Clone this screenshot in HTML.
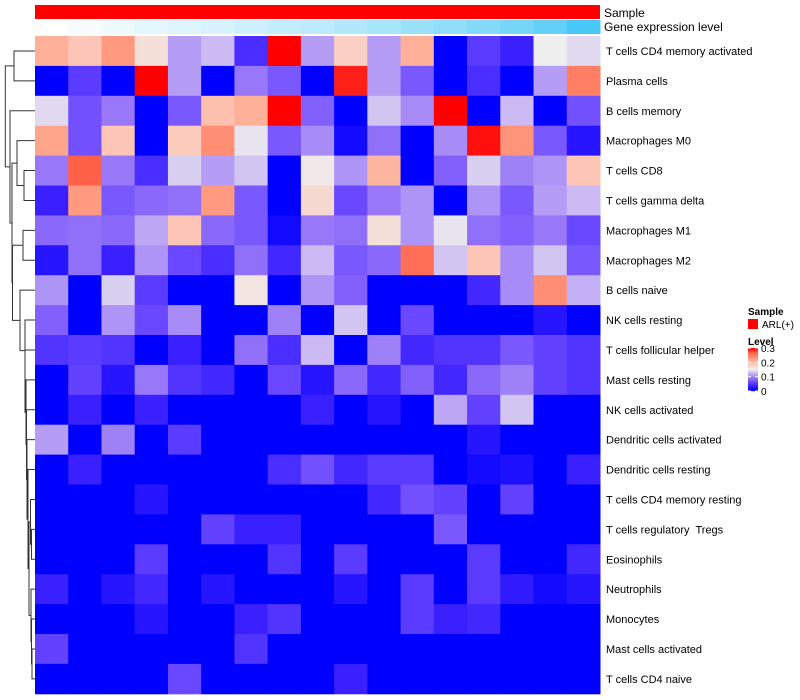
<!DOCTYPE html>
<html><head><meta charset="utf-8"><style>
html,body{margin:0;padding:0;background:#fff;}
svg{display:block;font-family:"Liberation Sans",sans-serif;}
svg text{white-space:pre;}
</style></head><body>
<svg id="chart" width="800" height="700" viewBox="0 0 800 700"></svg>
<script>
const rowNames=["T cells CD4 memory activated","Plasma cells","B cells memory","Macrophages M0","T cells CD8","T cells gamma delta","Macrophages M1","Macrophages M2","B cells naive","NK cells resting","T cells follicular helper","Mast cells resting","NK cells activated","Dendritic cells activated","Dendritic cells resting","T cells CD4 memory resting","T cells regulatory  Tregs","Eosinophils","Neutrophils","Monocytes","Mast cells activated","T cells CD4 naive"];
const geneLevel=[0,0.05,0.1,0.14,0.18,0.22,0.27,0.32,0.37,0.42,0.48,0.54,0.6,0.67,0.75,0.85,1];
const v0=[0.21,0.19,0.23,0.165,0.11,0.125,0.04,0.3,0.11,0.18,0.11,0.21,0,0.05,0.03,0.15,0.14];
const v1=[0,0.05,0,0.3,0.11,0,0.09,0.07,0,0.29,0.11,0.07,0,0.04,0,0.11,0.25];
const v2=[0.14,0.065,0.09,0,0.07,0.195,0.21,0.3,0.075,0,0.13,0.1,0.3,0,0.125,0,0.065];
const v3=[0.22,0.065,0.19,0,0.185,0.24,0.145,0.07,0.1,0.01,0.085,0,0.1,0.295,0.235,0.07,0.02];
const v4=[0.09,0.27,0.09,0.04,0.135,0.11,0.13,0,0.155,0.105,0.205,0,0.075,0.135,0.095,0.105,0.19];
const v5=[0.03,0.23,0.07,0.08,0.085,0.23,0.07,0,0.17,0.06,0.09,0.105,0,0.105,0.07,0.11,0.125];
const v6=[0.08,0.085,0.08,0.115,0.19,0.08,0.07,0.01,0.09,0.085,0.165,0.105,0.145,0.085,0.075,0.09,0.06];
const v7=[0.02,0.085,0.03,0.105,0.06,0.04,0.085,0.035,0.125,0.07,0.08,0.26,0.13,0.19,0.1,0.13,0.07];
const v8=[0.105,0,0.135,0.05,0,0,0.16,0,0.105,0.075,0,0,0,0.035,0.1,0.24,0.12];
const v9=[0.075,0,0.105,0.06,0.1,0,0,0.095,0,0.13,0,0.06,0,0,0,0.02,0];
const v10=[0.045,0.05,0.045,0,0.03,0,0.085,0.04,0.125,0,0.095,0.035,0.045,0.045,0.07,0.055,0.045];
const v11=[0,0.055,0.02,0.09,0.045,0.035,0,0.06,0.02,0.08,0.035,0.075,0.035,0.08,0.095,0.055,0.045];
const v12=[0,0.03,0,0.03,0,0,0,0,0.03,0,0.02,0,0.115,0.055,0.13,0,0];
const v13=[0.11,0,0.095,0,0.05,0,0,0,0,0,0,0,0,0.02,0,0,0];
const v14=[0,0.03,0,0,0,0,0,0.04,0.065,0.035,0.05,0.05,0,0.01,0.015,0,0.03];
const v15=[0,0,0,0.02,0,0,0,0,0,0,0.035,0.065,0.055,0,0.055,0,0];
const v16=[0,0,0,0,0,0.055,0.03,0.03,0,0,0,0,0.07,0,0,0,0];
const v17=[0,0,0,0.05,0,0,0,0.045,0,0.05,0,0,0,0.05,0,0,0.035];
const v18=[0.03,0,0.02,0.035,0,0.02,0,0,0,0.02,0,0.05,0,0.05,0.025,0.01,0.02];
const v19=[0,0,0,0.02,0,0,0.03,0.045,0,0,0,0.05,0.03,0.035,0,0,0];
const v20=[0.055,0,0,0,0,0,0.045,0,0,0,0,0,0,0,0,0,0];
const v21=[0,0,0,0,0.06,0,0,0,0,0.03,0,0,0,0,0,0,0];
const values=[v0,v1,v2,v3,v4,v5,v6,v7,v8,v9,v10,v11,v12,v13,v14,v15,v16,v17,v18,v19,v20,v21];
const levelTicks=[0,0.1,0.2,0.3];

const NS="http://www.w3.org/2000/svg";
const svg=document.getElementById('chart');
function mk(tag,attrs,parent){const e=document.createElementNS(NS,tag);for(const k in attrs)e.setAttribute(k,attrs[k]);(parent||svg).appendChild(e);return e;}
const X0=35,X1=600,Y0=36,RH=29.9,nC=17,CW=(X1-X0)/nC;
const xPos=c=>X0+c*CW, yPos=r=>Y0+r*RH;
const stops=[[0,[0,0,255]],[0.03,[58,32,255]],[0.06,[106,72,255]],[0.09,[152,120,248]],[0.12,[196,176,244]],[0.15,[238,238,238]],[0.18,[250,208,196]],[0.21,[255,176,152]],[0.24,[255,142,116]],[0.27,[255,96,72]],[0.3,[255,0,0]]];
function col(v){v=Math.max(0,Math.min(0.3,v));for(let i=1;i<stops.length;i++){if(v<=stops[i][0]){const a=stops[i-1],b=stops[i],t=(v-a[0])/(b[0]-a[0]);return 'rgb('+a[1].map((c,j)=>Math.round(c+(b[1][j]-c)*t)).join(',')+')';}}return 'rgb(255,0,0)';}
function blueCol(t){return 'rgb('+Math.round(255+(72-255)*t)+','+Math.round(255+(200-255)*t)+','+Math.round(255+(246-255)*t)+')';}

const g=mk('g',{});


values.forEach((row,r)=>row.forEach((v,c)=>{
  const e=mk('rect',{x:xPos(c),y:yPos(r),width:CW+0.5,height:RH+0.5,fill:col(v)},g);
  
  
}));
const sb=mk('rect',{x:X0,y:5,width:X1-X0,height:14,fill:'#ff0000'});


geneLevel.forEach((t,c)=>{const e=mk('rect',{x:xPos(c),y:20,width:CW+0.5,height:14,fill:blueCol(t)});
  
  });
let t=mk('text',{x:604,y:17,'font-size':12});t.textContent='Sample';

t=mk('text',{x:604,y:31,'font-size':12});t.textContent='Gene expression level';

rowNames.forEach((n,r)=>{const e=mk('text',{x:606,y:yPos(r)+RH/2+4,'font-size':11});e.textContent=n;
  
  });
const merges=[[0,1,14],[4,5,24],[3,'c1',17],[6,7,23],[20,21,32],[19,'c4',31.5],[18,'c5',31],[16,17,31.5],[15,'c7',30.5],['c6','c8',29],[14,'c9',28],[13,'c10',27],[12,'c11',26.5],[11,'c12',26],[10,'c13',25],[9,'c14',25],[8,'c15',20],['c3','c16',12.5],['c2','c17',12],[2,'c18',10],['c0','c19',5.3]];
const node={};
function pos(k){return typeof k==='number'?{x:X0,y:yPos(k)+RH/2}:node[k];}
const dg=mk('g',{stroke:'#333','stroke-width':1,fill:'none'});


merges.forEach((m,i)=>{const a=pos(m[0]),b=pos(m[1]),h=m[2];
  mk('path',{d:`M${a.x} ${a.y}H${h}V${b.y}H${b.x}`},dg);
  node['c'+i]={x:h,y:(a.y+b.y)/2};});
t=mk('text',{x:748,y:315,'font-size':10,'font-weight':'bold'});t.textContent='Sample';

const lr=mk('rect',{x:748,y:319,width:10,height:10,fill:'#ff0000'});

t=mk('text',{x:762,y:328,'font-size':10});t.textContent='ARL(+)';

t=mk('text',{x:748,y:345,'font-size':10,'font-weight':'bold'});t.textContent='Level';

const LB0=348,LB1=391;
for(let i=0;i<43;i++){const v=0.3*(1-i/42);mk('rect',{x:748,y:LB0+i,width:10,height:1.2,fill:col(v)});}
levelTicks.forEach(v=>{const y=LB1-(v/0.3)*(LB1-LB0);
  mk('line',{x1:748,x2:751,y1:y,y2:y,stroke:'#fff'});mk('line',{x1:755,x2:758,y1:y,y2:y,stroke:'#fff'});
  const e=mk('text',{x:761,y:y+4,'font-size':10});e.textContent=v===0?'0':v.toFixed(1);
  });
</script>
</body></html>
